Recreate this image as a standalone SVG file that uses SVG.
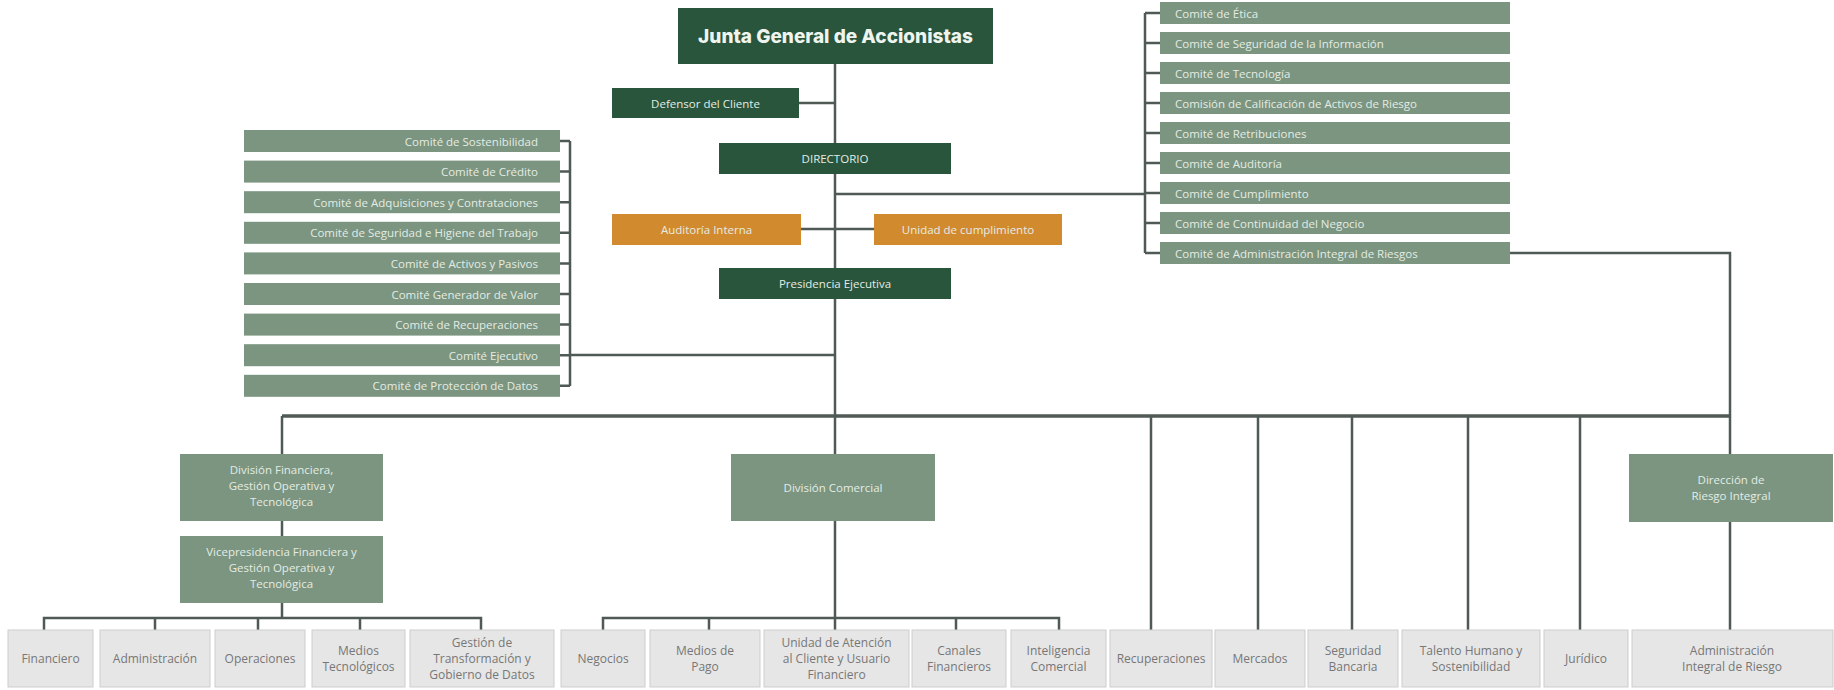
<svg xmlns="http://www.w3.org/2000/svg" width="1834" height="690" viewBox="0 0 1834 690">
<style>
.dk{fill:#28553c;}
.md{fill:#7b9580;}
.or{fill:#d28a2f;}
.lg{fill:#e6e6e6;stroke:#cdcdcd;stroke-width:1;}
.ln{stroke:#4e5a53;stroke-width:2.5;fill:none;}
.bus{stroke:#4e5a53;stroke-width:3.5;fill:none;}
.tw{font-family:"Open Sans","Liberation Sans",sans-serif;font-size:11.5px;fill:#e4ece4;}
.tc{text-anchor:middle;dominant-baseline:central;}
.tr{text-anchor:end;dominant-baseline:central;}
.tl{text-anchor:start;dominant-baseline:central;}
.tg{font-family:"Open Sans","Liberation Sans",sans-serif;font-size:12px;fill:#777;text-anchor:middle;}
.title{font-family:Inter,"Liberation Sans",sans-serif;font-weight:800;font-size:19px;fill:#eef4ee;text-anchor:middle;dominant-baseline:central;}
</style>
<rect width="1834" height="690" fill="#ffffff"/>
<g id="connectors">
<path class="ln" d="M835,64 V618"/>
<path class="ln" d="M799,103 H835"/>
<path class="ln" d="M801,229 H874"/>
<path class="ln" d="M835,194 H1145 M1145,13 V253"/>
<path class="ln" d="M1145,13 H1160 M1145,43 H1160 M1145,73 H1160 M1145,103 H1160 M1145,133 H1160 M1145,163 H1160 M1145,193 H1160 M1145,223 H1160 M1145,253 H1160"/>
<path class="ln" d="M570,141 V386 M560,141 H570 M560,171.6 H570 M560,202.2 H570 M560,232.8 H570 M560,263.4 H570 M560,294 H570 M560,324.6 H570 M560,355.2 H570 M560,385.8 H570"/>
<path class="ln" d="M570,355 H835"/>
<path class="ln" d="M1510,253 H1730 V630"/>
<path class="bus" d="M282,416 H1730"/>
<path class="ln" d="M282,416 V618"/>
<path class="ln" d="M44,630 V618 H481 V630 M155,618 V630 M258,618 V630 M360,618 V630"/>
<path class="ln" d="M603,630 V618 H1059 V630 M709,618 V630 M835,618 V630 M956,618 V630"/>
<path class="ln" d="M1151,416 V630 M1258,416 V630 M1352,416 V630 M1468,416 V630 M1580,416 V630"/>
</g>
<g id="junta"><rect class="dk" x="678" y="8" width="315" height="56"/><text class="title" x="835.5" y="36">Junta General de Accionistas</text></g>
<g id="defensor"><rect class="dk" x="612" y="88" width="187" height="30"/><text class="tw tc" x="705.5" y="103">Defensor del Cliente</text></g>
<g id="directorio"><rect class="dk" x="719" y="143" width="232" height="31"/><text class="tw tc" x="835" y="158.5">DIRECTORIO</text></g>
<g id="auditoria"><rect class="or" x="612" y="214" width="189" height="31"/><text class="tw tc" x="706.5" y="229.5">Auditoría Interna</text></g>
<g id="cumplimiento"><rect class="or" x="874" y="214" width="188" height="31"/><text class="tw tc" x="968" y="229.5">Unidad de cumplimiento</text></g>
<g id="presidencia"><rect class="dk" x="719" y="268" width="232" height="31"/><text class="tw tc" x="835" y="283.5">Presidencia Ejecutiva</text></g>
<g id="rc1"><rect class="md" x="1160" y="2" width="350" height="22"/><text class="tw tl" x="1175" y="13">Comité de Ética</text></g>
<g id="rc2"><rect class="md" x="1160" y="32" width="350" height="22"/><text class="tw tl" x="1175" y="43">Comité de Seguridad de la Información</text></g>
<g id="rc3"><rect class="md" x="1160" y="62" width="350" height="22"/><text class="tw tl" x="1175" y="73">Comité de Tecnología</text></g>
<g id="rc4"><rect class="md" x="1160" y="92" width="350" height="22"/><text class="tw tl" x="1175" y="103">Comisión de Calificación de Activos de Riesgo</text></g>
<g id="rc5"><rect class="md" x="1160" y="122" width="350" height="22"/><text class="tw tl" x="1175" y="133">Comité de Retribuciones</text></g>
<g id="rc6"><rect class="md" x="1160" y="152" width="350" height="22"/><text class="tw tl" x="1175" y="163">Comité de Auditoría</text></g>
<g id="rc7"><rect class="md" x="1160" y="182" width="350" height="22"/><text class="tw tl" x="1175" y="193">Comité de Cumplimiento</text></g>
<g id="rc8"><rect class="md" x="1160" y="212" width="350" height="22"/><text class="tw tl" x="1175" y="223">Comité de Continuidad del Negocio</text></g>
<g id="rc9"><rect class="md" x="1160" y="242" width="350" height="22"/><text class="tw tl" x="1175" y="253">Comité de Administración Integral de Riesgos</text></g>
<g id="lc1"><rect class="md" x="244" y="130" width="316" height="22"/><text class="tw tr" x="538" y="141">Comité de Sostenibilidad</text></g>
<g id="lc2"><rect class="md" x="244" y="160.6" width="316" height="22"/><text class="tw tr" x="538" y="171.6">Comité de Crédito</text></g>
<g id="lc3"><rect class="md" x="244" y="191.2" width="316" height="22"/><text class="tw tr" x="538" y="202.2">Comité de Adquisiciones y Contrataciones</text></g>
<g id="lc4"><rect class="md" x="244" y="221.8" width="316" height="22"/><text class="tw tr" x="538" y="232.8">Comité de Seguridad e Higiene del Trabajo</text></g>
<g id="lc5"><rect class="md" x="244" y="252.4" width="316" height="22"/><text class="tw tr" x="538" y="263.4">Comité de Activos y Pasivos</text></g>
<g id="lc6"><rect class="md" x="244" y="283" width="316" height="22"/><text class="tw tr" x="538" y="294">Comité Generador de Valor</text></g>
<g id="lc7"><rect class="md" x="244" y="313.6" width="316" height="22"/><text class="tw tr" x="538" y="324.6">Comité de Recuperaciones</text></g>
<g id="lc8"><rect class="md" x="244" y="344.2" width="316" height="22"/><text class="tw tr" x="538" y="355.2">Comité Ejecutivo</text></g>
<g id="lc9"><rect class="md" x="244" y="374.8" width="316" height="22"/><text class="tw tr" x="538" y="385.8">Comité de Protección de Datos</text></g>
<g id="divfin"><rect class="md" x="180" y="454" width="203" height="67"/><text class="tw" text-anchor="middle" x="281.5" y="474">División Financiera,<tspan x="281.5" dy="16">Gestión Operativa y</tspan><tspan x="281.5" dy="16">Tecnológica</tspan></text></g>
<g id="vicefin"><rect class="md" x="180" y="536" width="203" height="67"/><text class="tw" text-anchor="middle" x="281.5" y="556">Vicepresidencia Financiera y<tspan x="281.5" dy="16">Gestión Operativa y</tspan><tspan x="281.5" dy="16">Tecnológica</tspan></text></g>
<g id="divcom"><rect class="md" x="731" y="454" width="204" height="67"/><text class="tw tc" x="833" y="487.5">División Comercial</text></g>
<g id="dirriesgo"><rect class="md" x="1629" y="454" width="204" height="68"/><text class="tw" text-anchor="middle" x="1731" y="484">Dirección de<tspan x="1731" dy="16">Riesgo Integral</tspan></text></g>
<g id="b1"><rect class="lg" x="8" y="630" width="85" height="57"/><text class="tg" x="50.5" y="663">Financiero</text></g>
<g id="b2"><rect class="lg" x="100" y="630" width="110" height="57"/><text class="tg" x="155" y="663">Administración</text></g>
<g id="b3"><rect class="lg" x="215" y="630" width="90" height="57"/><text class="tg" x="260" y="663">Operaciones</text></g>
<g id="b4"><rect class="lg" x="312" y="630" width="93" height="57"/><text class="tg" x="358.5" y="655">Medios<tspan x="358.5" dy="16">Tecnológicos</tspan></text></g>
<g id="b5"><rect class="lg" x="410" y="630" width="144" height="57"/><text class="tg" x="482" y="647">Gestión de<tspan x="482" dy="16">Transformación y</tspan><tspan x="482" dy="16">Gobierno de Datos</tspan></text></g>
<g id="b6"><rect class="lg" x="561" y="630" width="84" height="57"/><text class="tg" x="603" y="663">Negocios</text></g>
<g id="b7"><rect class="lg" x="650" y="630" width="110" height="57"/><text class="tg" x="705" y="655">Medios de<tspan x="705" dy="16">Pago</tspan></text></g>
<g id="b8"><rect class="lg" x="764" y="630" width="145" height="57"/><text class="tg" x="836.5" y="647">Unidad de Atención<tspan x="836.5" dy="16">al Cliente y Usuario</tspan><tspan x="836.5" dy="16">Financiero</tspan></text></g>
<g id="b9"><rect class="lg" x="912" y="630" width="94" height="57"/><text class="tg" x="959" y="655">Canales<tspan x="959" dy="16">Financieros</tspan></text></g>
<g id="b10"><rect class="lg" x="1011" y="630" width="95" height="57"/><text class="tg" x="1058.5" y="655">Inteligencia<tspan x="1058.5" dy="16">Comercial</tspan></text></g>
<g id="b11"><rect class="lg" x="1110" y="630" width="102" height="57"/><text class="tg" x="1161" y="663">Recuperaciones</text></g>
<g id="b12"><rect class="lg" x="1215" y="630" width="90" height="57"/><text class="tg" x="1260" y="663">Mercados</text></g>
<g id="b13"><rect class="lg" x="1308" y="630" width="90" height="57"/><text class="tg" x="1353" y="655">Seguridad<tspan x="1353" dy="16">Bancaria</tspan></text></g>
<g id="b14"><rect class="lg" x="1402" y="630" width="138" height="57"/><text class="tg" x="1471" y="655">Talento Humano y<tspan x="1471" dy="16">Sostenibilidad</tspan></text></g>
<g id="b15"><rect class="lg" x="1544" y="630" width="84" height="57"/><text class="tg" x="1586" y="663">Jurídico</text></g>
<g id="b16"><rect class="lg" x="1632" y="630" width="201" height="57"/><text class="tg" x="1732" y="655">Administración<tspan x="1732" dy="16">Integral de Riesgo</tspan></text></g>
</svg>
